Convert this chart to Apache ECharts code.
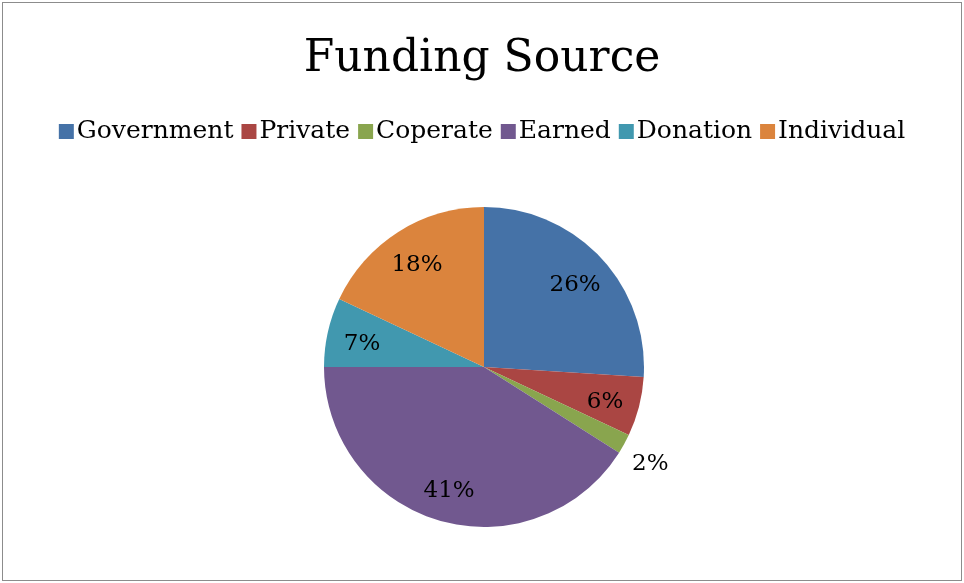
<!DOCTYPE html>
<html>
<head>
<meta charset="utf-8">
<script src="https://cdn.jsdelivr.net/npm/echarts@6/dist/echarts.min.js"></script>
<style>
  html, body { margin: 0; padding: 0; background: #fff; }
  #main { position: absolute; left: 2px; top: 2px; width: 958px; height: 577px; border: 1px solid #8c8c8c; }
</style>
</head>
<body>
<div id="main"></div>
<script>
// 数据
var names = ['Government', 'Private', 'Coperate', 'Earned', 'Donation', 'Individual'];
var values = [26, 6, 2, 41, 7, 18];
var colors = ['#4572A7', '#AA4643', '#89A54E', '#71588F', '#4198AF', '#DB843D'];

var serif = 'DejaVu Serif';

var chart = echarts.init(document.getElementById('main'));

// 可见的饼图，只有 2% 标签放在外面
var pieData = names.map(function (n, i) {
  var item = { name: n, value: values[i], itemStyle: { color: colors[i] } };
  if (values[i] < 3) {
    item.label = { show: true, position: 'outside' };
  }
  return item;
});

// 透明的饼图，用来放内部标签
var labelData = names.map(function (n, i) {
  var item = { name: n, value: values[i] };
  if (values[i] < 3) item.label = { show: false };
  return item;
});

var option = {
  animation: false,
  title: {
    text: 'Funding Source',
    left: 'center',
    top: 30,
    textStyle: { fontFamily: serif, fontSize: 44, fontWeight: 'normal', color: '#000' }
  },
  legend: {
    data: names,
    top: 111,
    left: 'center',
    icon: 'rect',
    itemWidth: 15,
    itemHeight: 15,
    itemGap: 8,
    textStyle: { fontFamily: serif, fontSize: 25, color: '#000', padding: [0, 0, 0, -2] }
  },
  series: [
    {
      type: 'pie',
      radius: 160,
      center: [481, 364],
      startAngle: 90,
      clockwise: true,
      silent: true,
      itemStyle: { borderWidth: 0 },
      label: {
        show: false,
        fontFamily: serif, fontSize: 23, color: '#000',
        formatter: '{c}%'
      },
      labelLine: { show: false, length: 42, length2: -34 },
      data: pieData
    },
    {
      type: 'pie',
      radius: 244,
      center: [481, 368],
      startAngle: 90,
      clockwise: true,
      silent: true,
      itemStyle: { color: 'rgba(0,0,0,0)' },
      label: {
        show: true,
        position: 'inside',
        fontFamily: serif, fontSize: 23, color: '#000',
        formatter: '{c}%'
      },
      labelLine: { show: false },
      data: labelData
    }
  ]
};

chart.setOption(option);
</script>
</body>
</html>
